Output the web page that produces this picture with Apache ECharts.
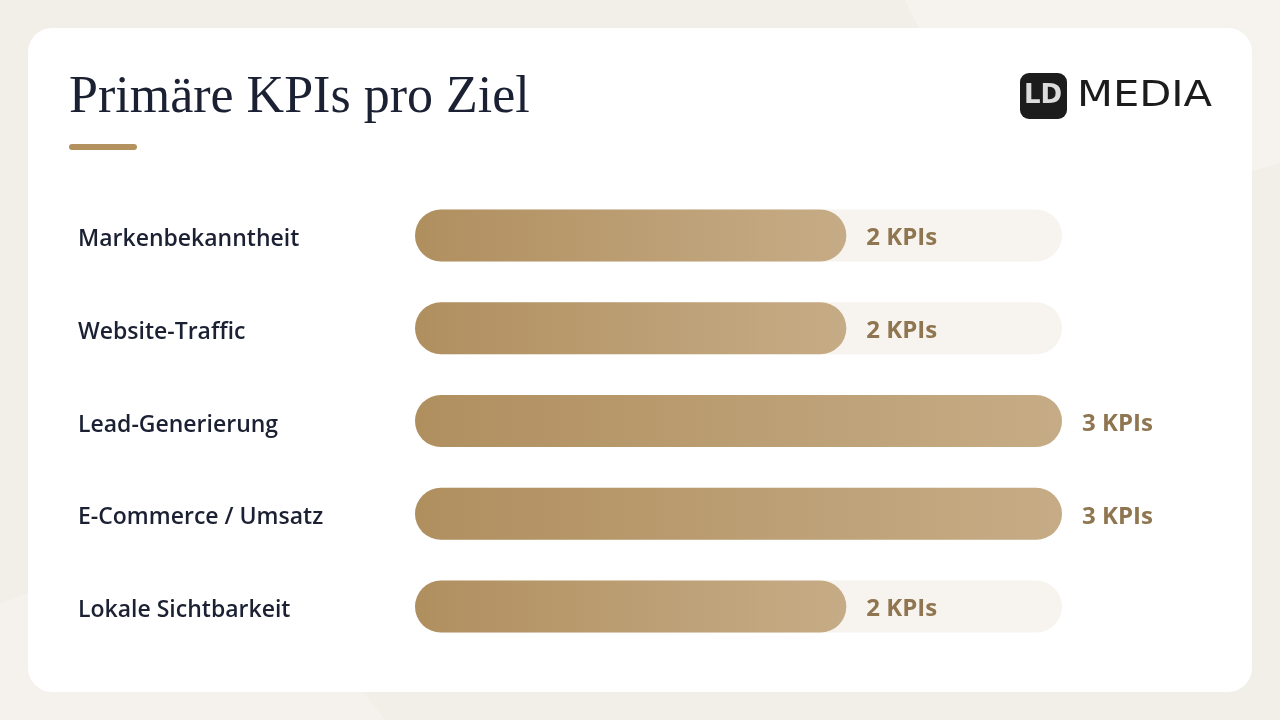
<!DOCTYPE html>
<html style="height: 100%">
<head>
<meta charset="utf-8">
<script src="https://cdn.jsdelivr.net/npm/echarts@6/dist/echarts.min.js"></script>
</head>
<body style="height: 100%; margin: 0; background: #f2eee8">
<div id="container" style="width: 1280px; height: 720px"></div>
<script type="text/javascript">
// Ziele und Anzahl primärer KPIs
var goals = ['Markenbekanntheit', 'Website-Traffic', 'Lead-Generierung', 'E-Commerce / Umsatz', 'Lokale Sichtbarkeit'];
var kpiCounts = [2, 2, 3, 3, 2];
var maxKpis = 3;

var gold = '#8f7550';
var ink = '#1b2133';

var chart = echarts.init(document.getElementById('container'));

var option = {
    backgroundColor: '#f2eee8',
    animation: false,
    graphic: [
        // Hintergrundflächen
        {
            type: 'circle', z: -20,
            shape: { cx: 1180, cy: -120, r: 300 },
            style: { fill: '#f6f3ee' }
        },
        {
            type: 'circle', z: -20,
            shape: { cx: 120, cy: 900, r: 320 },
            style: { fill: '#f5f2ed' }
        },
        // Karte
        {
            type: 'rect', z: -10,
            shape: { x: 28, y: 28, width: 1224, height: 664, r: 24 },
            style: { fill: '#ffffff' }
        },
        {
            type: 'text', left: 69, top: 72,
            style: { text: 'Primäre KPIs pro Ziel', font: '52px "Liberation Serif", serif', fill: ink }
        },
        {
            type: 'rect',
            shape: { x: 69, y: 144, width: 68, height: 6, r: 3 },
            style: { fill: '#b4925f' }
        },
        // Logo
        {
            type: 'rect',
            shape: { x: 1020, y: 73, width: 47, height: 46, r: 9 },
            style: { fill: '#1c1c1c' }
        },
        {
            type: 'text', x: 1043, y: 96,
            style: { text: 'LD', font: 'bold 26px "DejaVu Sans", sans-serif', fill: '#dcdcdc', align: 'center', verticalAlign: 'middle' }
        },
        {
            type: 'text', x: 1077, y: 97, scaleX: 1.19,
            style: { text: 'MEDIA', font: '35px "DejaVu Sans", sans-serif', fill: '#1c1c1c', verticalAlign: 'middle' }
        }
    ],
    grid: { left: 415, right: 218, top: 189, height: 464 },
    xAxis: {
        type: 'value', min: 0, max: maxKpis,
        show: false
    },
    yAxis: {
        type: 'category',
        data: goals,
        inverse: true,
        axisLine: { show: false },
        axisTick: { show: false },
        axisLabel: {
            align: 'left',
            margin: 337,
            formatter: function (v) { return '{g|' + v + '}'; },
            rich: {
                g: {
                    color: ink,
                    fontFamily: 'Open Sans',
                    fontWeight: 600,
                    fontSize: 23,
                    padding: [8, 0, 0, 0]
                }
            }
        }
    },
    series: [{
        type: 'bar',
        data: kpiCounts,
        barWidth: 52,
        showBackground: true,
        backgroundStyle: { color: '#f7f3ee', borderRadius: 26 },
        itemStyle: {
            borderRadius: 26,
            color: new echarts.graphic.LinearGradient(0, 0, 1, 0, [
                { offset: 0, color: '#b08f5f' },
                { offset: 1, color: '#c6ac86' }
            ])
        },
        label: {
            show: true,
            position: 'right',
            distance: 20,
            offset: [0, 3],
            color: gold,
            fontFamily: 'Open Sans',
            fontWeight: 'bold',
            fontSize: 24,
            formatter: function (p) { return p.value + ' KPIs'; }
        }
    }]
};

chart.setOption(option);
</script>
</body>
</html>
